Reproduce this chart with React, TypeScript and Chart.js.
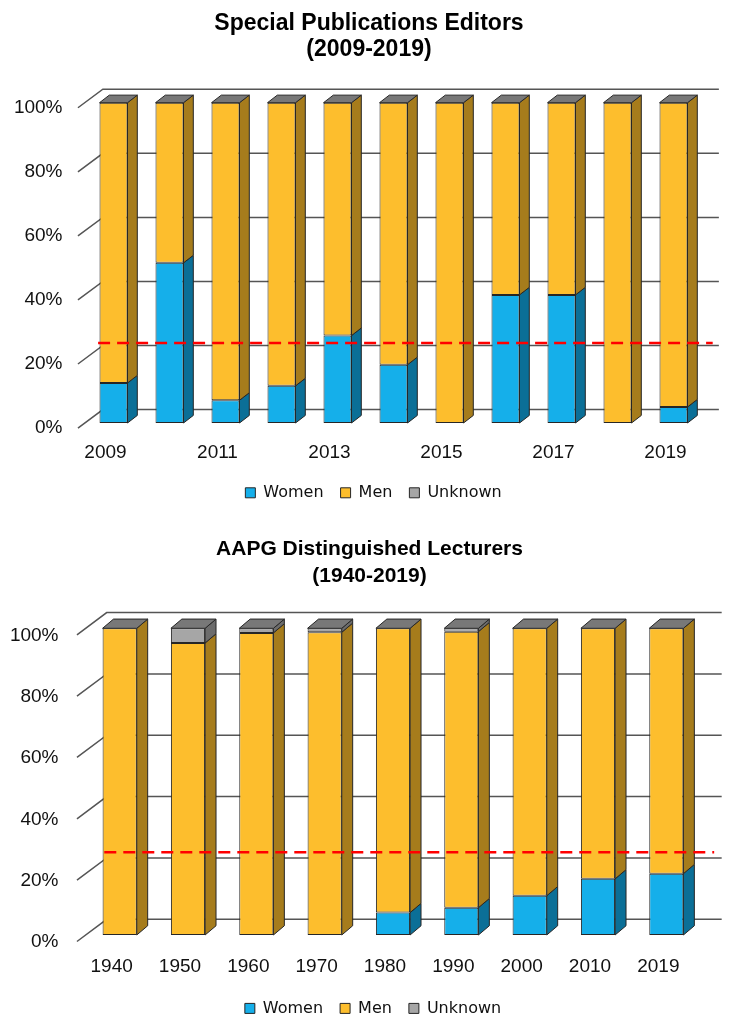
import React, { useEffect, useRef } from 'react';
import { Chart, registerables } from 'chart.js';

Chart.register(...registerables);

// ---------- Data ----------
const spCategories = ['2009', '2010', '2011', '2012', '2013', '2014', '2015', '2016', '2017', '2018', '2019'];
const spWomen = [12.5, 50, 7.1, 11.6, 27.3, 18.2, 0, 40, 40, 0, 5];
const spMen = [87.5, 50, 92.9, 88.4, 72.7, 81.8, 100, 60, 60, 100, 95];
const spUnknown = [0, 0, 0, 0, 0, 0, 0, 0, 0, 0, 0];
const spReference = 25;
const spTitle = ['Special Publications Editors', '(2009-2019)'];

const dlCategories = ['1940', '1950', '1960', '1970', '1980', '1990', '2000', '2010', '2019'];
const dlWomen = [0, 0, 0, 0, 7.3, 8.9, 12.8, 18.3, 20];
const dlMen = [100, 95.2, 98.5, 98.7, 92.7, 90.0, 87.2, 81.7, 80];
const dlUnknown = [0, 4.8, 1.5, 1.3, 0, 1.1, 0, 0, 0];
const dlReference = 27;
const dlTitle = ['AAPG Distinguished Lecturers', '(1940-2019)'];

const seriesNames = ['Women', 'Men', 'Unknown'];
const yTickValues = [0, 20, 40, 60, 80, 100];

// ---------- Styles ----------
const FRONT_COLORS = ['#15AFEA', '#FDBE2D', '#A6A6A6'];
const SIDE_COLORS = ['#0B6F97', '#A67C1C', '#6C6C6C'];
const TOP_COLOR = '#787878';
const EDGE = '#262626';
const GRID = '#555555';
const FONT_SANS = "'Liberation Sans', Arial, sans-serif";
const FONT_LEGEND = "'DejaVu Sans', Verdana, sans-serif";

type Geo = {
  frontX: number; frontY: number; backX: number; backY: number;
  depthX: number; depthY: number; refStart: number; refEnd: number;
  reference: number; legendLeft: number; titleLeft: number;
};

function poly(ctx: CanvasRenderingContext2D, pts: number[][], fill: string) {
  ctx.beginPath();
  ctx.moveTo(pts[0][0], pts[0][1]);
  for (let i = 1; i < pts.length; i++) ctx.lineTo(pts[i][0], pts[i][1]);
  ctx.closePath();
  ctx.fillStyle = fill;
  ctx.fill();
  ctx.stroke();
}

function makeDepthPlugin(g: Geo) {
  return {
    id: 'depth3d',
    afterLayout(chart: any) {
      if (chart.legend) chart.legend.left = g.legendLeft;
      if (chart.titleBlock) chart.titleBlock.left = g.titleLeft;
    },
    beforeDatasetsDraw(chart: any) {
      const { ctx, chartArea, scales } = chart;
      const y = scales.y;
      const first = chart.getDatasetMeta(0).data[0];
      if (!first) return;
      const w = first.width;
      const fx = chartArea.left - g.frontX * w;
      const bx = chartArea.left + g.backX * w;
      const rx = chartArea.right + g.backX * w;
      ctx.save();
      ctx.strokeStyle = GRID;
      ctx.lineWidth = 1.5;
      for (const t of y.ticks) {
        const py = y.getPixelForValue(t.value);
        ctx.beginPath();
        ctx.moveTo(fx, py + g.frontY * w);
        ctx.lineTo(bx, py - g.backY * w);
        ctx.lineTo(rx, py - g.backY * w);
        ctx.stroke();
      }
      ctx.restore();
    },
    afterDatasetsDraw(chart: any) {
      const { ctx, chartArea, scales } = chart;
      const n = chart.data.labels.length;
      const metas = chart.data.datasets.map((_: any, i: number) => chart.getDatasetMeta(i));
      ctx.save();
      ctx.lineWidth = 1;
      ctx.strokeStyle = EDGE;
      ctx.lineJoin = 'round';
      for (let i = 0; i < n; i++) {
        let topY = Infinity;
        let cx = 0;
        let w = 0;
        metas.forEach((meta: any, d: number) => {
          const el = meta.data[i];
          const { x, y, base, width } = el.getProps(['x', 'y', 'base', 'width'], true);
          cx = x;
          w = width;
          const dx = g.depthX * width;
          const dy = g.depthY * width;
          const xr = x + width / 2;
          if (Math.abs(base - y) > 0.5) {
            poly(ctx, [[xr, y], [xr + dx, y - dy], [xr + dx, base - dy], [xr, base]], SIDE_COLORS[d]);
          }
          topY = Math.min(topY, y, base);
        });
        const dx = g.depthX * w;
        const dy = g.depthY * w;
        const xl = cx - w / 2;
        const xr = cx + w / 2;
        poly(ctx, [[xl, topY], [xl + dx, topY - dy], [xr + dx, topY - dy], [xr, topY]], TOP_COLOR);
      }
      const w0 = metas[0].data[0].width;
      const py = scales.y.getPixelForValue(g.reference);
      ctx.setLineDash([12, 7]);
      ctx.strokeStyle = '#FF0000';
      ctx.lineWidth = 2.5;
      ctx.beginPath();
      ctx.moveTo(chartArea.left + g.refStart * w0, py);
      ctx.lineTo(chartArea.right + g.refEnd * w0, py);
      ctx.stroke();
      ctx.restore();
    },
  };
}

type Params = {
  categories: string[];
  series: number[][];
  reference: number;
  title: string[];
  titleSize: number;
  titleLine: number;
  titlePadTop: number;
  titlePadBottom: number;
  yPad: number;
  yLabelOffset: number;
  xPad: number;
  xHeight: number;
  skipOdd: boolean;
  padRight: number;
  padBottom: number;
  geo: Omit<Geo, 'reference'>;
};

function buildConfig(p: Params): any {
  return {
    type: 'bar',
    data: {
      labels: p.categories,
      datasets: p.series.map((data, i) => ({
        label: seriesNames[i],
        data,
        backgroundColor: FRONT_COLORS[i],
        borderColor: EDGE,
        borderWidth: 1,
        borderSkipped: false,
        categoryPercentage: 1,
        barPercentage: 0.5,
      })),
    },
    options: {
      responsive: false,
      maintainAspectRatio: false,
      animation: false,
      events: [],
      layout: { padding: { left: 0, right: p.padRight, top: 0, bottom: p.padBottom } },
      scales: {
        x: {
          stacked: true,
          grid: { display: false, drawTicks: false },
          border: { display: false },
          ticks: {
            autoSkip: false,
            maxRotation: 0,
            padding: p.xPad,
            labelOffset: -8,
            color: '#111',
            font: { family: FONT_SANS, size: 19 },
            callback: function (this: any, value: any, index: number) {
              if (p.skipOdd && index % 2 === 1) return '';
              return this.getLabelForValue(value);
            },
          },
          afterFit: (s: any) => { s.height = p.xHeight; },
        },
        y: {
          stacked: true,
          min: 0,
          max: 100,
          grid: { display: false, drawTicks: false },
          border: { display: false },
          afterBuildTicks: (s: any) => { s.ticks = yTickValues.map((v) => ({ value: v })); },
          ticks: {
            padding: p.yPad,
            labelOffset: p.yLabelOffset,
            color: '#111',
            font: { family: FONT_SANS, size: 19 },
            callback: (v: any) => v + '%',
          },
          afterFit: (s: any) => { s.width = 85.5; },
        },
      },
      plugins: {
        tooltip: { enabled: false },
        title: {
          display: true,
          text: p.title,
          color: '#000',
          font: { family: FONT_SANS, size: p.titleSize, weight: 'bold', lineHeight: p.titleLine + 'px' },
          padding: { top: p.titlePadTop, bottom: p.titlePadBottom },
        },
        legend: {
          position: 'bottom',
          labels: {
            boxWidth: 10,
            boxHeight: 10,
            padding: 17,
            color: '#111',
            font: { family: FONT_LEGEND, size: 16 },
          },
        },
      },
    },
    plugins: [makeDepthPlugin({ ...p.geo, reference: p.reference })],
  };
}

function ChartCanvas({ params }: { params: Params }) {
  const ref = useRef<HTMLCanvasElement | null>(null);
  useEffect(() => {
    if (!ref.current) return;
    const chart = new Chart(ref.current, buildConfig(params));
    return () => chart.destroy();
  }, [params]);
  return <canvas ref={ref} width={742} height={515} style={{ display: 'block', width: 742, height: 515 }} />;
}

const spParams: Params = {
  categories: spCategories,
  series: [spWomen, spMen, spUnknown],
  reference: spReference,
  title: spTitle,
  titleSize: 23,
  titleLine: 26,
  titlePadTop: 11,
  titlePadBottom: 39.7,
  yPad: 23,
  yLabelOffset: 5,
  xPad: 18,
  xHeight: 44.8,
  skipOdd: true,
  padRight: 40.5,
  padBottom: 4.2,
  geo: {
    frontX: 0.27, frontY: 0.18, backX: 0.62, backY: 0.48, depthX: 0.35, depthY: 0.27,
    refStart: 0.45, refEnd: 0.4, legendLeft: 45.5, titleLeft: 36.5,
  },
};

const dlParams: Params = {
  categories: dlCategories,
  series: [dlWomen, dlMen, dlUnknown],
  reference: dlReference,
  title: dlTitle,
  titleSize: 21,
  titleLine: 27,
  titlePadTop: 20.5,
  titlePadBottom: 38.8,
  yPad: 27,
  yLabelOffset: 7,
  xPad: 20.3,
  xHeight: 48.4,
  skipOdd: false,
  padRight: 41.5,
  padBottom: 3.6,
  geo: {
    frontX: 0.25, frontY: 0.19, backX: 0.62, backY: 0.46, depthX: 0.32, depthY: 0.27,
    refStart: 0.55, refEnd: 0.4, legendLeft: 45.5, titleLeft: 38.5,
  },
};

export default function App() {
  return (
    <div style={{ position: 'absolute', left: 0, top: 0, width: 742, height: 1030, background: '#fff' }}>
      <ChartCanvas params={spParams} />
      <ChartCanvas params={dlParams} />
    </div>
  );
}
